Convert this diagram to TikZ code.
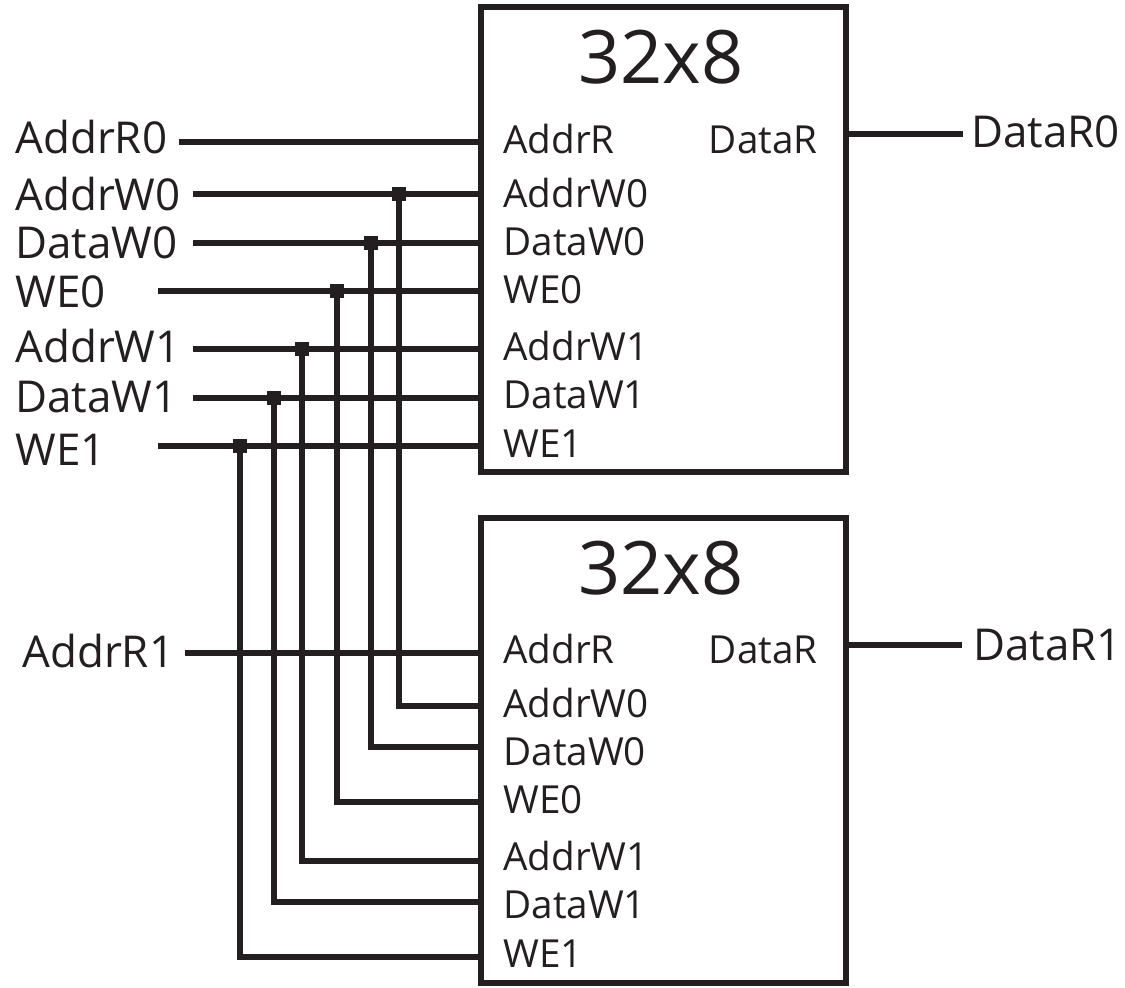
\documentclass[tikz,border=0pt]{standalone}
\usepackage{fontspec}
\setmainfont{Open Sans}
\usepackage{xcolor}
\usepackage{tikz}
\usetikzlibrary{calc, positioning}
\definecolor{ink}{RGB}{35,31,32}

\begin{document}
\begin{tikzpicture}[
    x=0.02cm, y=-0.02cm,
    wire_line/.style={draw=ink, line width=0.11cm},
    % Memory blocks
    mem_box/.style={rectangle, draw=ink, line width=0.11cm, minimum width=7.3cm, minimum height=9.3cm, inner sep=0pt},
    title_label/.style={font=\fontsize{42}{48}\selectfont, text=ink, inner sep=0pt, anchor=base},
    % Port names
    sig_label/.style={font=\fontsize{25}{30}\selectfont, text=ink, inner sep=0pt, anchor=base west},
    pin_label/.style={font=\fontsize{22}{26}\selectfont, text=ink, inner sep=0pt, anchor=base west},
    junc_dot/.style={rectangle, fill=ink, minimum size=0.27cm, inner sep=0pt}
]
    \useasboundingbox (0,0) rectangle (1125,987);

    % =========================================================================
    % MEMORY BLOCKS 32x8
    % =========================================================================
    \node [mem_box] (mem0) at (663.5, 239.5) {};
    \node [mem_box] (mem1) at (663.5, 750.5) {};
    \node [title_label] (ttl0) at (661, 83) {32x8};
    \node [title_label] (ttl1) at (661, 594) {32x8};

    \foreach \pn/\by in {AddrR/153, AddrW0/207, DataW0/255, WE0/303, AddrW1/360, DataW1/408, WE1/457} {
        \node [pin_label] (p0\pn) at (503, \by) {\pn};
        \node [pin_label] (p1\pn) at (503, {\by+510}) {\pn};
    }
    \node [pin_label, anchor=base east] (p0DataR) at (818, 153) {DataR};
    \node [pin_label, anchor=base east] (p1DataR) at (818, 663) {DataR};

    % =========================================================================
    % INPUTS OF THE FIRST BLOCK
    % =========================================================================
    \foreach \nm/\wy/\by/\sx in {AddrR0/142/153/179, AddrW0/194/210/193, DataW0/243/258/193, WE0/291/307/158, AddrW1/349/362/193, DataW1/398/412/193, WE1/446/465/158} {
        \node [sig_label] (in\nm) at (15, \by) {\nm};
        \coordinate (w\nm) at (\sx, \wy);
        \draw [wire_line] (w\nm) -- (w\nm -| mem0.west);
    }

    % Read port of the second block
    \node [sig_label] (inAddrR1) at (22, 667) {AddrR1};
    \coordinate (wAddrR1) at (185, 653);
    \draw [wire_line] (wAddrR1) -- (wAddrR1 -| mem1.west);

    % =========================================================================
    % SHARED WRITE BUS TO THE SECOND BLOCK
    % =========================================================================
    \foreach \nm/\wy/\bx/\ty in {AddrW0/194/399/706, DataW0/243/371/747, WE0/291/337/802, AddrW1/349/302/861, DataW1/398/274/902, WE1/446/240/957} {
        \node [junc_dot] (j\nm) at (\bx, \wy) {};
        \coordinate (t\nm) at (mem1.west |- 0,\ty);
        \draw [wire_line] (j\nm.center) |- (t\nm);
    }

    % =========================================================================
    % OUTPUTS
    % =========================================================================
    \coordinate (oR0) at (963, 134);
    \coordinate (oR1) at (962, 645);
    \node [sig_label] (outR0) at (971, 147) {DataR0};
    \node [sig_label] (outR1) at (973, 660) {DataR1};
    \draw [wire_line] (mem0.east |- oR0) -- (oR0);
    \draw [wire_line] (mem1.east |- oR1) -- (oR1);
\end{tikzpicture}
\end{document}
